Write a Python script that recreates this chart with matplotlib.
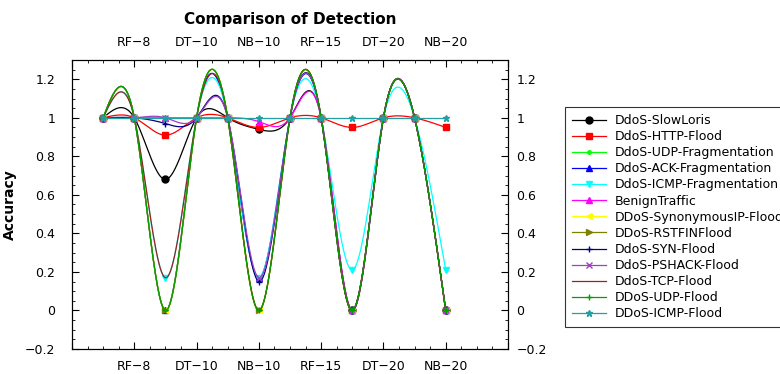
import numpy as np
import matplotlib
matplotlib.use("Agg")
import matplotlib.pyplot as plt
from matplotlib.ticker import MultipleLocator

# ---- data ----
x_points = [0.5, 1, 1.5, 2, 2.5, 3, 3.5, 4, 4.5, 5, 5.5, 6]
tick_positions = [1, 2, 3, 4, 5, 6]
tick_labels = ["RF\u22128", "DT\u221210", "NB\u221210", "RF\u221215", "DT\u221220", "NB\u221220"]

def pattern(v1, v2, v3, v4):
    return [1, 1, v1, 1, 1, v2, 1, 1, v3, 1, 1, v4]

names = ["DdoS-SlowLoris", "DdoS-HTTP-Flood", "DdoS-UDP-Fragmentation",
         "DdoS-ACK-Fragmentation", "DdoS-ICMP-Fragmentation", "BenignTraffic",
         "DDoS-SynonymousIP-Flood", "DDoS-RSTFINFlood", "DdoS-SYN-Flood",
         "DdoS-PSHACK-Flood", "DdoS-TCP-Flood", "DDoS-UDP-Flood", "DDoS-ICMP-Flood"]
slowloris = pattern(0.68, 0.94, 0.0, 0.0)
http_flood = pattern(0.91, 0.95, 0.95, 0.95)
udp_frag = pattern(0.0, 0.0, 0.0, 0.0)
ack_frag = pattern(0.0, 0.17, 0.0, 0.0)
icmp_frag = pattern(0.17, 0.17, 0.21, 0.21)
benign = pattern(1.0, 0.98, 0.0, 0.0)
synonymous = pattern(0.0, 0.0, 0.0, 0.0)
rstfin = pattern(0.0, 0.0, 0.0, 0.0)
syn_flood = pattern(0.97, 0.15, 0.0, 0.0)
pshack = pattern(1.0, 0.17, 0.0, 0.0)
tcp_flood = pattern(0.17, 0.0, 0.0, 0.0)
udp_flood = pattern(0.0, 0.0, 0.0, 0.0)
icmp_flood = pattern(1.0, 1.0, 1.0, 1.0)

series = [slowloris, http_flood, udp_frag, ack_frag, icmp_frag, benign,
          synonymous, rstfin, syn_flood, pshack, tcp_flood, udp_flood, icmp_flood]
colors = ["black", "red", "#00ff00", "blue", "cyan", "magenta", "yellow",
          "#808000", "#000080", "#a040c0", "#a02020", "#00a000", "#20a0a0"]
markers = ["o", "s", ".", "^", "v", "^", "<", ">", "+", "x", "", "+", "*"]


def spline_natural(x, y, xs):
    x = np.asarray(x, float); y = np.asarray(y, float)
    n = len(x); h = np.diff(x)
    A = np.zeros((n, n)); b = np.zeros(n)
    A[0, 0] = 1.0
    A[-1, -1] = 1.0
    for i in range(1, n - 1):
        A[i, i - 1] = h[i - 1]
        A[i, i] = 2 * (h[i - 1] + h[i])
        A[i, i + 1] = h[i]
        b[i] = 6 * ((y[i + 1] - y[i]) / h[i] - (y[i] - y[i - 1]) / h[i - 1])
    M = np.linalg.solve(A, b)
    idx = np.clip(np.searchsorted(x, xs) - 1, 0, n - 2)
    xi = x[idx]; xi1 = x[idx + 1]; hi = h[idx]
    return (M[idx] * (xi1 - xs) ** 3 / (6 * hi) + M[idx + 1] * (xs - xi) ** 3 / (6 * hi)
            + (y[idx] / hi - M[idx] * hi / 6) * (xi1 - xs)
            + (y[idx + 1] / hi - M[idx + 1] * hi / 6) * (xs - xi))


fig = plt.figure(figsize=(7.8, 3.74), dpi=100)
ax = fig.add_axes([72 / 780, 1 - 349 / 374, (508 - 72) / 780, (349 - 60) / 374])

xs = np.linspace(x_points[0], x_points[-1], 600)
for name, vals, c, m in zip(names, series, colors, markers):
    ys = spline_natural(x_points, vals, xs)
    ax.plot(xs, ys, color=c, lw=0.9)
    ax.plot(x_points, vals, linestyle="none", marker=m if m else None, color=c, ms=5)
    ax.plot([], [], color=c, lw=0.9, marker=m if m else None, ms=5, label=name)

ax.set_xlim(0, 7)
ax.set_ylim(-0.2, 1.3)
ax.set_xticks([0] + tick_positions + [7])
ax.set_xticklabels([""] + tick_labels + [""])
ax.xaxis.set_minor_locator(MultipleLocator(0.25))
yticks = [-0.2, 0, 0.2, 0.4, 0.6, 0.8, 1.0, 1.2]
ylabels = ["\u22120.2", "0", "0.2", "0.4", "0.6", "0.8", "1", "1.2"]
ax.set_yticks(yticks)
ax.set_yticklabels(ylabels)
ax.yaxis.set_minor_locator(MultipleLocator(0.05))
ax.tick_params(which="both", direction="in", top=True, right=True,
               labeltop=True, labelright=False, labelsize=9)
ax.tick_params(axis="x", which="major", pad=8)
ax.tick_params(axis="y", which="major", pad=12)
ax.tick_params(which="major", length=5)
ax.tick_params(which="minor", length=2.5)

ax2 = ax.twinx()
ax2.set_ylim(-0.2, 1.3)
ax2.set_yticks(yticks)
ax2.set_yticklabels(ylabels)
ax2.yaxis.set_minor_locator(MultipleLocator(0.05))
ax2.tick_params(which="both", direction="in", labelsize=9)
ax2.tick_params(which="major", length=5, pad=6)
ax2.tick_params(which="minor", length=2.5)

ax.set_ylabel("Accuracy", fontweight="bold", fontsize=10, labelpad=6)
ax.set_title("Comparison of Detection", fontweight="bold", fontsize=11, pad=26)

leg = fig.legend(loc="upper left", bbox_to_anchor=(565 / 780, 1 - 107 / 374),
                 fontsize=9, frameon=True, fancybox=False, edgecolor="black",
                 handlelength=2.7, handletextpad=0.7, labelspacing=0.25,
                 borderpad=0.55, borderaxespad=0)
leg.get_frame().set_linewidth(0.8)

fig.savefig("out.png", dpi=100)
